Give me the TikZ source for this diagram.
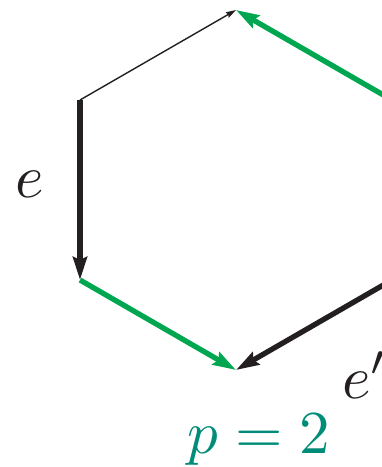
\documentclass[tikz,border=0pt]{standalone}
\usetikzlibrary{arrows.meta}
\definecolor{edgegreen}{RGB}{0,166,80}
\definecolor{edgeblack}{RGB}{35,31,32}
\definecolor{labelteal}{RGB}{0,140,120}
\tikzset{
  thickedge/.style={line width=5.3pt,-{Stealth[length=23pt,width=14pt,inset=3pt]}},
  thinedge/.style={line width=1.4pt,-{Stealth[length=10pt,width=6pt,inset=1pt]}},
  lbl/.style={inner sep=0pt,scale=6.1}
}
\begin{document}
\begin{tikzpicture}[x=1pt,y=-1pt]
\useasboundingbox (0,0) rectangle (382,467);
\coordinate (T) at (236,10);
\coordinate (UL) at (80,100);
\coordinate (LL) at (80,280);
\coordinate (B) at (236,370);
\coordinate (LR) at (392,280);
\coordinate (UR) at (392,100);
\draw[thinedge,edgeblack] (UL) -- (T);
\draw[thickedge,edgegreen] (UR) -- (T);
\draw[thickedge,edgeblack] (UL) -- (LL);
\draw[thickedge,edgegreen] (LL) -- (B);
\draw[thickedge,edgeblack] (LR) -- (B);
\node[lbl,anchor=base west,text=edgeblack] (le) at (14,197) {$e$};
\node[lbl,anchor=base west,text=edgeblack] (lep) at (341,398) {$e'$};
\node[lbl,anchor=base,text=labelteal] (lp) at (259,453) {$p=2$};
\end{tikzpicture}
\end{document}
